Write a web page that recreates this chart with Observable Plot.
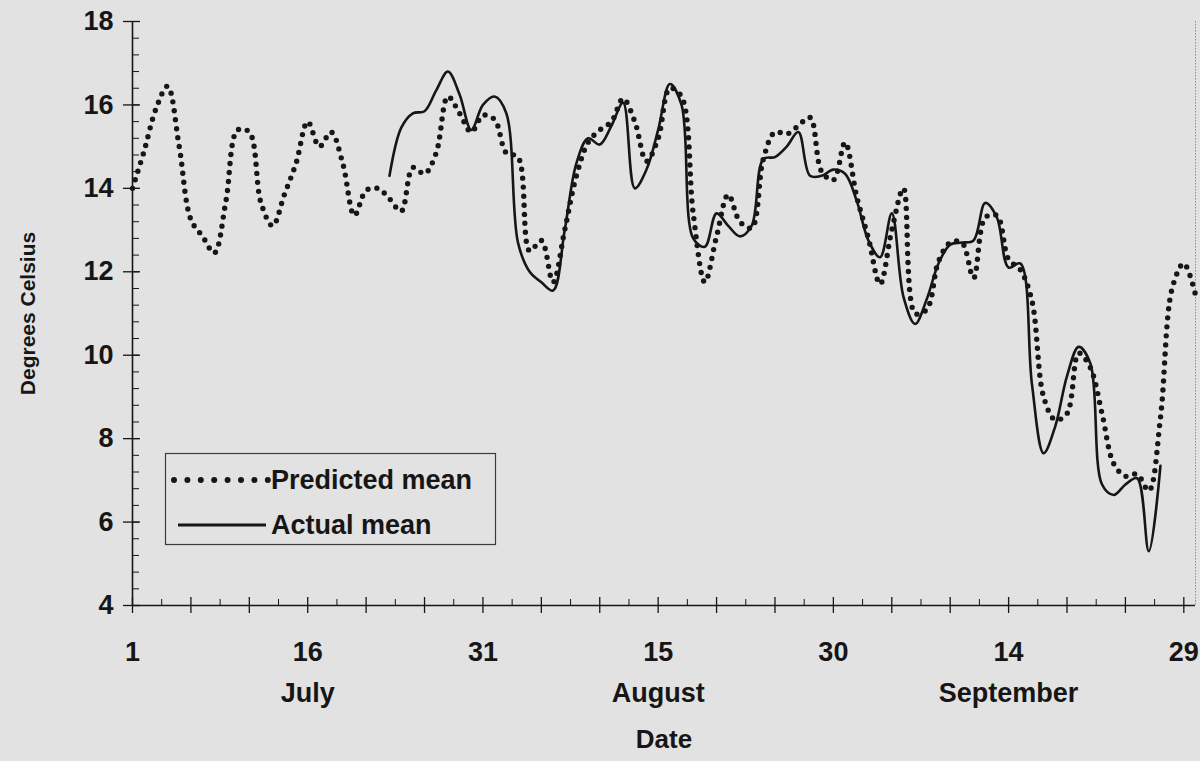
<!DOCTYPE html>
<html>
<head>
<meta charset="utf-8">
<script src="https://cdn.jsdelivr.net/npm/d3@7"></script>
<script src="https://cdn.jsdelivr.net/npm/@observablehq/plot@0.6"></script>
<style>
  html, body { margin: 0; padding: 0; background: #e2e2e2; }
  #chart { position: relative; width: 1200px; height: 761px; }
  #legend { position: absolute; left: 165px; top: 453px; }
</style>
</head>
<body>
<div id="chart"><div id="legend"></div></div>
<script>
// Daily mean temperatures (°C), day 0 = 1 July, day 91 = 30 September
const predictedMean = [
  14.0, 14.9, 15.9, 16.45, 15.0, 13.25, 12.85, 12.45, 13.7, 15.4,
  15.35, 13.65, 13.1, 13.85, 14.6, 15.6, 15.0, 15.35, 14.6, 13.35,
  13.95, 14.0, 13.75, 13.45, 14.5, 14.35, 14.85, 16.2, 15.8, 15.35,
  15.75, 15.65, 14.85, 14.75, 12.5, 12.75, 11.75, 13.0, 14.3, 15.1,
  15.4, 15.6, 16.15, 15.6, 14.65, 15.2, 16.4, 16.2, 13.4, 11.75,
  12.85, 13.85, 13.2, 13.05, 14.7, 15.35, 15.3, 15.5, 15.7, 14.4,
  14.2, 15.1, 13.8, 12.8, 11.7, 13.0, 14.0, 11.0, 11.1, 12.25,
  12.7, 12.7, 11.85, 13.3, 13.35, 12.3, 12.05, 11.3, 9.0, 8.45,
  8.6, 10.05, 9.7, 8.6, 7.4, 7.1, 7.15, 6.75, 8.5, 11.6,
  12.2, 11.45
];

// Observed means start on 23 July (day 22)
const actualStartDay = 22;
const actualMean = [
  14.3, 15.45, 15.8, 15.85, 16.35, 16.8, 16.25, 15.4, 16.0, 16.2,
  15.8, 12.7, 12.0, 11.75, 11.55, 13.0, 14.6, 15.2, 15.05, 15.5,
  16.05, 14.0, 14.45, 15.4, 16.5, 16.0, 12.8, 12.6, 13.4, 13.1,
  12.85, 13.1, 14.7, 14.75, 15.0, 15.35, 14.3, 14.3, 14.45, 14.35,
  13.7, 12.75, 12.35, 13.4, 11.4, 10.75, 11.35, 12.2, 12.65, 12.7,
  12.75, 13.65, 13.3, 12.1, 12.2, 9.3, 7.65, 8.3, 9.5, 10.2,
  9.8, 6.9, 6.65, 6.9, 7.05, 5.3, 7.35
];

// Axis labelling
const xTickDays = [0, 15, 30, 45, 60, 75, 90];
const xTickLabels = ["1", "16", "31", "15", "30", "14", "29"];
const monthDays = [15, 45, 75];
const monthNames = ["July", "August", "September"];
const yTicks = [4, 6, 8, 10, 12, 14, 16, 18];
const seriesNames = ["Predicted mean", "Actual mean"];

const predictedRows = predictedMean.map((v, i) => ({day: i, value: v}));
const actualRows = actualMean.map((v, i) => ({day: actualStartDay + i, value: v}));

const ink = "#161616";
const fontFamily = "'Liberation Sans', Arial, Helvetica, sans-serif";

const yMinor = d3.range(0, 36).map(i => 4 + i * 0.4);
const xMajor = d3.range(0, 91, 5);
const xMinor = d3.range(2.5, 91, 5);

const chart = Plot.plot({
  width: 1200,
  height: 761,
  marginLeft: 132,
  marginRight: 5,
  marginTop: 21,
  marginBottom: 156,
  style: {
    background: "transparent",
    color: ink,
    fontFamily,
    fontSize: "27px",
    fontWeight: "bold",
    overflow: "visible"
  },
  x: {domain: [0, 91], axis: null, label: null},
  y: {domain: [4, 18], axis: null, label: null},
  marks: [
    // plot-area border on the right
    Plot.ruleX([91], {stroke: "#8c8c8c", strokeWidth: 1, strokeDasharray: "1.5 1.5"}),
    // axis lines
    Plot.ruleX([0], {stroke: ink, strokeWidth: 1.6}),
    Plot.ruleY([4], {stroke: ink, strokeWidth: 1.6}),
    // y ticks: majors cross the axis, minors point inward
    Plot.axisY(yTicks, {tickSize: 17, dx: 8, text: null, stroke: ink, strokeWidth: 1.3}),
    Plot.axisY(yMinor, {tickSize: 7, dx: 7, text: null, stroke: ink, strokeWidth: 1}),
    Plot.axisY(yTicks, {tickSize: 0, tickPadding: 19, fontSize: 27, fontWeight: "bold", fill: ink, tickFormat: d => String(d)}),
    // x ticks
    Plot.axisX(xMajor, {tickSize: 16, dy: -8, text: null, stroke: ink, strokeWidth: 1.3}),
    Plot.axisX(xMinor, {tickSize: 6, dy: -6, text: null, stroke: ink, strokeWidth: 1}),
    Plot.text(xTickDays, {x: d => d, text: (d, i) => xTickLabels[i], frameAnchor: "bottom", lineAnchor: "middle", dy: 47, fontSize: 27, fontWeight: "bold", fill: ink}),
    Plot.text(monthDays, {x: d => d, text: (d, i) => monthNames[i], frameAnchor: "bottom", lineAnchor: "middle", dy: 88, fontSize: 27, fontWeight: "bold", fill: ink}),
    // axis titles
    Plot.text(["Date"], {frameAnchor: "bottom", lineAnchor: "middle", dy: 134, fontSize: 26, fontWeight: "bold", fill: ink}),
    Plot.text(["Degrees Celsius"], {frameAnchor: "left", textAnchor: "middle", lineAnchor: "middle", dx: -104, rotate: -90, fontSize: 21, fontWeight: "bold", fill: ink}),
    // series
    Plot.line(actualRows, {x: "day", y: "value", curve: "catmull-rom", stroke: ink, strokeWidth: 2.6}),
    Plot.line(predictedRows, {x: "day", y: "value", curve: "catmull-rom", stroke: ink, strokeWidth: 5.4, strokeDasharray: "0 9", strokeLinecap: "round"})
  ]
});

document.getElementById("chart").prepend(chart);

// Legend box
const lg = d3.select("#legend").append("svg")
  .attr("width", 332).attr("height", 93)
  .style("overflow", "visible")
  .style("font-family", fontFamily)
  .style("font-weight", "bold");
lg.append("rect").attr("x", 0.5).attr("y", 0.5).attr("width", 330).attr("height", 91)
  .attr("fill", "none").attr("stroke", "#3c3c3c").attr("stroke-width", 1.2);
lg.append("line").attr("x1", 9).attr("x2", 103).attr("y1", 27).attr("y2", 27)
  .attr("stroke", ink).attr("stroke-width", 6).attr("stroke-dasharray", "0 13.4").attr("stroke-linecap", "round");
lg.append("line").attr("x1", 13).attr("x2", 101).attr("y1", 72).attr("y2", 72)
  .attr("stroke", ink).attr("stroke-width", 2.8);
lg.selectAll("text.entry").data(seriesNames).join("text")
  .attr("class", "entry")
  .attr("x", 106)
  .attr("y", (d, i) => (i === 0 ? 27 : 72))
  .attr("dy", "0.35em")
  .attr("font-size", 27)
  .attr("fill", ink)
  .text(d => d);
</script>
</body>
</html>
